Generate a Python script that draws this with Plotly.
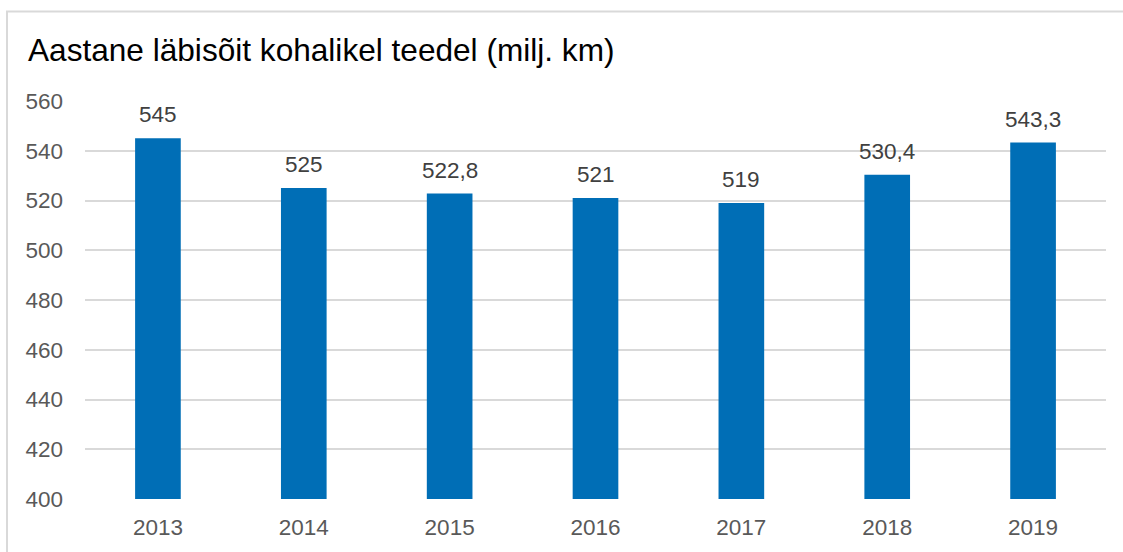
import plotly.graph_objects as go

years = ["2013", "2014", "2015", "2016", "2017", "2018", "2019"]
values = [545, 525, 522.8, 521, 519, 530.4, 543.3]
labels = ["545", "525", "522,8", "521", "519", "530,4", "543,3"]
y_ticks = [400, 420, 440, 460, 480, 500, 520, 540, 560]
title_text = "Aastane läbisõit kohalikel teedel (milj. km)"

W, H = 1123, 552
ML, MR, MT, MB = 85, 17, 101, 53
pw, ph = W - ML - MR, H - MT - MB
FONT = "Liberation Sans, Arial"

fig = go.Figure()
fig.add_trace(go.Bar(
    x=years, y=values, marker=dict(color="#006EB6", line=dict(width=0)),
    hoverinfo="skip",
))

for i, (v, t) in enumerate(zip(values, labels)):
    fig.add_annotation(x=i, y=v, xref="x", yref="y", text=t, showarrow=False, yanchor="bottom",
                       yshift=9, font=dict(family=FONT, size=22.5, color="#404040"))

def px_x(p):
    return (p - ML) / pw

def px_y(p):
    return (H - MB - p) / ph

fig.add_shape(type="rect", xref="paper", yref="paper",
              x0=px_x(7), x1=px_x(W + 10), y0=px_y(H + 10), y1=px_y(11.5),
              line=dict(color="#d9d9d9", width=2), fillcolor="rgba(0,0,0,0)", layer="below")

fig.update_layout(
    width=W, height=H,
    margin=dict(l=ML, r=MR, t=MT, b=MB, autoexpand=False),
    paper_bgcolor="white", plot_bgcolor="white",
    bargap=0.687,
    showlegend=False,
    font=dict(family=FONT, size=22.5, color="#595959"),
    title=dict(text=title_text, x=28 / W, xanchor="left", xref="container",
               y=1 - 50 / H, yanchor="middle", yref="container",
               font=dict(family=FONT, size=31.6, color="#000000")),
    xaxis=dict(type="category", categoryorder="array", categoryarray=years,
               range=[-0.5, len(years) - 0.5], showgrid=False, showline=False, ticks="",
               ticklabelstandoff=12, tickfont=dict(size=22.5, color="#595959")),
    yaxis=dict(range=[400, 560], tickvals=y_ticks, showgrid=True, gridcolor="#d9d9d9",
               gridwidth=1.5, zeroline=False, showline=False, ticks="",
               ticklabelstandoff=21, tickfont=dict(size=22.5, color="#595959")),
)

fig.write_html("out.html", config={"displayModeBar": False},
               post_script="document.body.style.margin='0';")
